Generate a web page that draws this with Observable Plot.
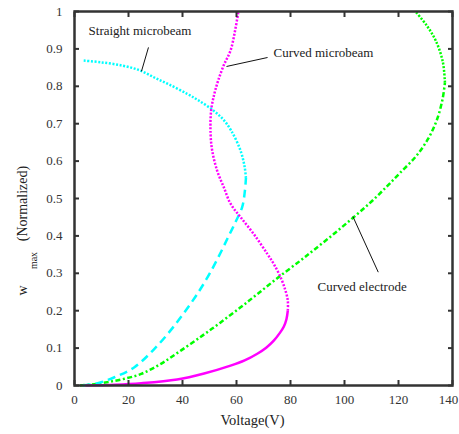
<!DOCTYPE html>
<html>
<head>
<meta charset="utf-8">
<script src="https://cdn.jsdelivr.net/npm/d3@7"></script>
<script src="https://cdn.jsdelivr.net/npm/@observablehq/plot@0.6"></script>
<style>
  html, body { margin: 0; padding: 0; background: #fff; }
  #chart { width: 459px; height: 434px; }
  #chart svg text { font-family: "Liberation Serif", "Times New Roman", serif; }
</style>
</head>
<body>
<div id="chart"></div>
<script>
// ---- data (Voltage V, normalized w_max) ----
const straightStable = [[3,0],[8,0.005],[14.8,0.022],[22.2,0.049],[29.6,0.098],[37,0.16],[43.8,0.227],[47,0.262],[50.5,0.305],[54.1,0.355],[57,0.398],[59.5,0.435],[62.1,0.477],[63.1,0.52],[63.5,0.555]];
const straightUnstable = [[63.5,0.555],[63,0.585],[61.5,0.628],[58,0.682],[55,0.712],[51.5,0.735],[46,0.762],[41.7,0.78],[35,0.805],[30,0.822],[24.4,0.842],[18,0.855],[10,0.864],[3,0.869]];
const curvedBeamStable = [[4,0],[15,0.002],[24.7,0.006],[38,0.016],[48,0.032],[57.8,0.053],[63,0.067],[67.7,0.085],[71,0.101],[73.8,0.12],[76,0.14],[77.5,0.157],[78.5,0.177],[79,0.2]];
const curvedBeamUnstable = [[79,0.2],[79,0.227],[78,0.257],[76.3,0.29],[73.8,0.325],[71.4,0.352],[66.4,0.405],[61.5,0.45],[57.8,0.486],[55.3,0.53],[52.8,0.575],[51,0.628],[50.4,0.673],[50.6,0.735],[51.8,0.78],[53.2,0.815],[55.2,0.855],[57.8,0.896],[59.5,0.95],[60.7,1.0]];
const electrodeStable = [[2,0],[8,0.004],[13,0.01],[18.5,0.018],[24.7,0.031],[32,0.058],[39.5,0.094],[47.5,0.134],[54,0.168],[61.5,0.209],[68,0.246],[76,0.292],[83.7,0.334],[88.6,0.362],[96,0.405],[103.4,0.45],[110,0.492],[115.8,0.533],[120.5,0.568],[126.5,0.613],[131,0.66],[134.2,0.71],[136.3,0.765],[137.2,0.81]];
const electrodeUnstable = [[137.2,0.81],[136.4,0.866],[133.8,0.922],[130.5,0.962],[126.3,1.0]];

const xTicks = [0, 20, 40, 60, 80, 100, 120, 140];
const xTickLabels = ["0", "20", "40", "60", "80", "100", "120", "140"];
const yTicks = [0, 0.1, 0.2, 0.3, 0.4, 0.5, 0.6, 0.7, 0.8, 0.9, 1];
const yTickLabels = ["0", "0.1", "0.2", "0.3", "0.4", "0.5", "0.6", "0.7", "0.8", "0.9", "1"];

const annotationText = ["Straight microbeam", "Curved microbeam", "Curved electrode"];
const annotationX = [5.2, 73.7, 90];
const annotationY = [0.949, 0.89, 0.265];
const leaderX1 = [27.4, 71.5, 103.1];
const leaderY1 = [0.904, 0.877, 0.452];
const leaderX2 = [24.8, 56.3, 112.5];
const leaderY2 = [0.840, 0.853, 0.303];

const CYAN = "#00ffff", MAGENTA = "#ff00ff", GREEN = "#00ff00";
const DOT = "2,1.6", DASH = "8,5", DASHDOT = "5,2.5,2,2.5";
const SERIF = "'Liberation Serif', 'Times New Roman', serif";

const annotations = annotationText.map((t, i) => ({t, x: annotationX[i], y: annotationY[i]}));
const leaders = annotationText.map((t, i) => ({x1: leaderX1[i], y1: leaderY1[i], x2: leaderX2[i], y2: leaderY2[i]}));

function branch(data, color, dash) {
  return Plot.line(data, {x: d => d[0], y: d => d[1], stroke: color, strokeWidth: 2.5,
    strokeDasharray: dash, curve: "catmull-rom", strokeLinecap: "butt"});
}
const lastX = xTicks[xTicks.length - 1];

const chart = Plot.plot({
  width: 459,
  height: 434,
  marginLeft: 74,
  marginRight: 7,
  marginTop: 11,
  marginBottom: 49,
  style: `font-family: ${SERIF}; font-size: 13px; background: #fff; overflow: visible;`,
  x: {domain: [0, 140]},
  y: {domain: [0, 1]},
  marks: [
    branch(electrodeStable, GREEN, DASHDOT),
    branch(electrodeUnstable, GREEN, DOT),
    branch(straightStable, CYAN, DASH),
    branch(straightUnstable, CYAN, DOT),
    branch(curvedBeamStable, MAGENTA, null),
    branch(curvedBeamUnstable, MAGENTA, DOT),
    Plot.link(leaders, {x1: "x1", y1: "y1", x2: "x2", y2: "y2", stroke: "#111", strokeWidth: 1}),
    Plot.text(annotations, {x: "x", y: "y", text: "t", textAnchor: "start", fontSize: 13, fill: "#222", fontFamily: SERIF}),
    Plot.axisX({ticks: xTicks, tickSize: -5, tickPadding: 14, strokeWidth: 2, color: "#333", fontSize: 13,
      tickFormat: d => d === lastX ? "" : xTickLabels[xTicks.indexOf(d)], label: null}),
    Plot.axisX({ticks: [lastX], tickSize: 0, tickPadding: 9, dx: -4, color: "#333", fontSize: 13,
      tickFormat: d => xTickLabels[xTicks.indexOf(d)], label: null}),
    Plot.axisX({anchor: "top", ticks: xTicks, tickSize: -5, strokeWidth: 2, color: "#333", tickFormat: () => "", label: null}),
    Plot.axisY({ticks: yTicks, tickSize: -5, tickPadding: 17, strokeWidth: 2, color: "#333", fontSize: 13,
      tickFormat: d => yTickLabels[yTicks.indexOf(d)], label: null}),
    Plot.axisY({anchor: "right", ticks: yTicks, tickSize: -5, strokeWidth: 2, color: "#333", tickFormat: () => "", label: null}),
    Plot.frame({stroke: "#333", strokeWidth: 2.5}),
    Plot.text(["Voltage(V)"], {frameAnchor: "bottom", dy: 35, dx: -11, fontSize: 14.5, fill: "#222", textAnchor: "middle", lineAnchor: "middle", fontFamily: SERIF}),
    Plot.text(["(Normalized)"], {frameAnchor: "left", dx: -52, dy: 5, rotate: -90, fontSize: 14, fill: "#222", textAnchor: "middle", lineAnchor: "middle", fontFamily: SERIF}),
    Plot.text(["w"], {frameAnchor: "left", dx: -52, dy: 92, rotate: -90, fontSize: 14, fill: "#222", textAnchor: "middle", lineAnchor: "middle", fontFamily: SERIF}),
    Plot.text(["max"], {frameAnchor: "left", dx: -41, dy: 62, rotate: -90, fontSize: 10, fill: "#222", textAnchor: "middle", lineAnchor: "middle", fontFamily: SERIF})
  ]
});
document.getElementById("chart").appendChild(chart);
</script>
</body>
</html>
